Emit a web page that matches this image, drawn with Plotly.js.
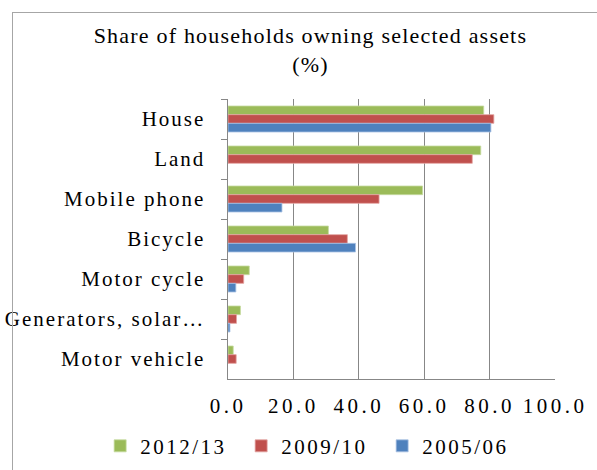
<!DOCTYPE html>
<html><head><meta charset="utf-8">
<script src="https://cdn.plot.ly/plotly-3.0.1.min.js"></script>
<style>
html,body{margin:0;padding:0;background:#fff;}
#wrap{position:relative;width:597px;height:470px;}
#chart{position:absolute;left:0;top:0;width:597px;height:470px;}
#frame{position:absolute;left:12px;top:12px;width:600px;height:470px;border:1px solid #a6a6a6;pointer-events:none;}
</style>
</head><body>
<div id="wrap"><div id="chart"></div><div id="frame"></div></div>
<script>
const categories = ["House","Land","Mobile phone","Bicycle","Motor cycle","Generators, solar…","Motor vehicle"];
const seriesNames = ["2012/13","2009/10","2005/06"];
const v2012 = [78.2,77.3,59.5,30.7,6.5,3.8,1.6];
const v2009 = [81.3,74.7,46.2,36.5,4.8,2.6,2.5];
const v2005 = [80.4,null,16.5,39.0,2.4,0.6,null];
const colors = ["#9BBB59","#C0504D","#4F81BD"];
const lineColors = ["#c5dba0","#e3a3a1","#a9c2e3"];
const values = [v2012,v2009,v2005];
const xTicks = [0,20,40,60,80,100];

const font = "Liberation Serif, Times New Roman, serif";
const traces = values.map((v,i)=>({
  type:'bar', orientation:'h', name:seriesNames[i],
  y:categories, x:v,
  marker:{color:colors[i], line:{color:lineColors[i], width:0.8}},
  hoverinfo:'none'
}));

const layout = {
  width:597, height:470,
  margin:{l:228,r:42,t:99,b:91,autoexpand:false},
  paper_bgcolor:'rgba(0,0,0,0)', plot_bgcolor:'rgba(0,0,0,0)',
  barmode:'group', bargap:0.35, bargroupgap:0,
  font:{family:font, color:'#000', size:21},
  title:{text:"Share of households owning selected assets<br>(%)", xref:'container', x:0.52, xanchor:'center', y:0.908, yanchor:'top', font:{family:font,size:22,color:'#000'}},
  xaxis:{range:[0,100], tickvals:xTicks, ticktext:xTicks.map(t=>t.toFixed(1)), showgrid:true, gridcolor:'#878787', gridwidth:1, showline:true, linecolor:'#878787', linewidth:1, ticks:'', zeroline:false, tickfont:{family:font,size:21}, ticklabelstandoff:8},
  yaxis:{autorange:'reversed', showline:true, linecolor:'#878787', linewidth:1.5, ticks:'outside', ticklen:6, tickcolor:'#878787', tickson:'boundaries', showgrid:false, tickfont:{family:font,size:21}, ticklabelstandoff:17},
  legend:{orientation:'h', xref:'paper', yref:'paper', x:-0.391, xanchor:'left', y:-0.24, yanchor:'middle', font:{family:font,size:21}, entrywidth:96, entrywidthmode:'pixels', traceorder:'normal'},
  showlegend:true
};
Plotly.newPlot('chart', traces, layout, {staticPlot:true, displayModeBar:false}).then(()=>{
  const setLS = (sel, v) => document.querySelectorAll(sel).forEach(t=>{t.style.letterSpacing=v;});
  setLS('#chart .ytick text','2px');
  setLS('#chart .xtick text','3.5px');
  setLS('#chart .legendtext','2.5px');
  setLS('#chart .gtitle','1.2px');
});
</script>
</body></html>
